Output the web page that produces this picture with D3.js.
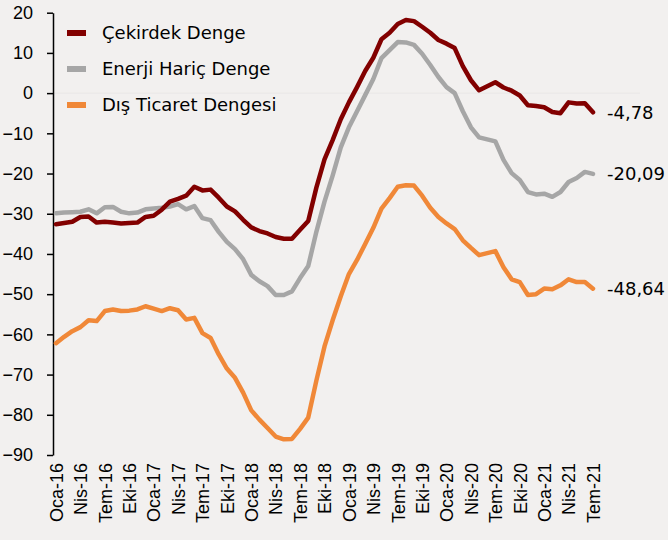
<!DOCTYPE html>
<html>
<head>
<meta charset="utf-8">
<script src="https://cdn.jsdelivr.net/npm/d3@7/dist/d3.min.js"></script>
<style>
  html, body { margin: 0; padding: 0; background: #f2f0ef; }
  svg { display: block; font-family: "DejaVu Sans", sans-serif; }
</style>
</head>
<body>
<div class="myChart"></div>
<script>
// aylar: Oca-16 .. Tem-21
const monthNames = ["Oca", "Şub", "Mar", "Nis", "May", "Haz", "Tem", "Ağu", "Eyl", "Eki", "Kas", "Ara"];
const months = [];
for (let y = 16; y <= 21; y++) {
    for (let m = 0; m < 12; m++) {
        if (y === 21 && m > 6) break;
        months.push(monthNames[m] + "-" + y);
    }
}

const cekirdek = [
    -32.6, -32.3, -32.0, -30.8, -30.7, -32.2, -32.0, -32.2, -32.4, -32.3, -32.2, -30.8,
    -30.5, -29.0, -27.0, -26.3, -25.5, -23.3, -24.2, -24.0, -26.0, -28.2, -29.4, -31.5,
    -33.4, -34.3, -34.9, -35.8, -36.2, -36.2, -34.0, -31.8, -23.5, -16.5, -11.7, -6.5,
    -2.3, 1.5, 5.5, 8.8, 13.4, 15.0, 17.2, 18.2, 17.9, 16.5, 15.0, 13.2,
    12.3, 11.2, 6.7, 3.2, 0.7, 1.7, 2.7, 1.4, 0.6, -0.6, -3.0, -3.2,
    -3.5, -4.7, -5.0, -2.3, -2.6, -2.5, -4.78
];
const enerjiHaric = [
    -29.9, -29.7, -29.6, -29.5, -28.9, -29.9, -28.4, -28.3, -29.5, -29.9, -29.7, -28.9,
    -28.7, -28.5, -28.2, -27.6, -28.9, -28.1, -31.1, -31.6, -34.5, -37.0, -38.8, -41.3,
    -45.2, -46.8, -48.0, -50.2, -50.2, -49.3, -46.0, -43.0, -34.5, -27.0, -20.5, -13.5,
    -8.5, -4.5, -0.5, 3.5, 8.7, 10.7, 12.7, 12.6, 12.0, 9.8, 7.0, 4.0,
    1.5, 0.0, -4.5, -8.5, -11.0, -11.5, -12.0, -16.6, -19.9, -21.6, -24.6, -25.2,
    -25.0, -25.8, -24.6, -22.1, -21.1, -19.6, -20.09
];
const disTicaret = [
    -62.2, -60.6, -59.2, -58.2, -56.5, -56.7, -54.2, -53.8, -54.2, -54.1, -53.8, -53.0,
    -53.6, -54.2, -53.5, -54.0, -56.3, -55.9, -59.7, -60.9, -65.0, -68.5, -70.8, -74.5,
    -78.9, -81.2, -83.3, -85.4, -86.1, -86.0, -83.5, -80.7, -71.5, -63.0, -56.5, -50.5,
    -45.0, -41.5, -37.5, -33.5, -28.7, -26.1, -23.3, -22.9, -23.0, -25.5, -28.5, -30.8,
    -32.4, -33.8, -36.6, -38.5, -40.3, -39.8, -39.3, -43.3, -46.3, -47.0, -50.2, -50.0,
    -48.6, -48.8, -47.8, -46.3, -47.0, -47.0, -48.64
];

const seriesNames = ["Çekirdek Denge", "Enerji Hariç Denge", "Dış Ticaret Dengesi"];
const seriesColors = ["#820000", "#a6a6a6", "#f08838"];
const yTicks = [20, 10, 0, -10, -20, -30, -40, -50, -60, -70, -80, -90];
const endLabels = ["-4,78", "-20,09", "-48,64"];

const width = 668, height = 540;
const svg = d3.select(".myChart").append("svg").attr("width", width).attr("height", height);

const x = d3.scalePoint().domain(months).range([56, 593]);
const y = d3.scaleLinear().domain([-90, 20]).range([455, 12.7]);

// faint zero line
svg.append("line")
    .attr("x1", 53).attr("x2", 640)
    .attr("y1", y(0)).attr("y2", y(0))
    .attr("stroke", "#e9e7e6").attr("stroke-width", 1);

const yAxis = svg.append("g")
    .attr("transform", "translate(53,0)")
    .call(d3.axisLeft(y).tickValues(yTicks).tickSize(6).tickPadding(14).tickSizeOuter(0));
yAxis.select(".domain").attr("stroke", "#000").attr("stroke-width", 1.5);
yAxis.selectAll(".tick line").attr("stroke", "#000").attr("stroke-width", 1.5);
yAxis.selectAll("text").attr("font-size", 18).attr("fill", "#000");

const xAxis = svg.append("g")
    .attr("transform", "translate(0,455)")
    .call(d3.axisBottom(x).tickValues(months.filter((d, i) => i % 3 === 0)).tickSize(0));
xAxis.select(".domain").remove();
xAxis.selectAll("text")
    .attr("font-size", 18).attr("fill", "#000")
    .attr("transform", "rotate(-90)")
    .attr("text-anchor", "end")
    .attr("x", -8).attr("y", 0).attr("dy", "0.35em");

const allSeries = [cekirdek, enerjiHaric, disTicaret];
const line = d3.line().x((d, i) => x(months[i])).y(d => y(d));

// draw orange first, red on top
[2, 1, 0].forEach(k => {
    svg.append("path")
        .datum(allSeries[k])
        .attr("fill", "none")
        .attr("stroke", seriesColors[k])
        .attr("stroke-width", 4.5)
        .attr("stroke-linejoin", "round")
        .attr("stroke-linecap", "round")
        .attr("d", line);
});

// end labels
allSeries.forEach((s, k) => {
    svg.append("text")
        .attr("x", 607)
        .attr("y", y(s[s.length - 1]))
        .attr("dy", "0.35em")
        .attr("font-size", 18)
        .attr("fill", "#000")
        .text(endLabels[k]);
});

// legend
const legend = svg.append("g");
seriesNames.forEach((n, k) => {
    const ly = 33 + k * 36;
    legend.append("line")
        .attr("x1", 67).attr("x2", 86).attr("y1", ly).attr("y2", ly)
        .attr("stroke", seriesColors[k]).attr("stroke-width", 6);
    legend.append("text")
        .attr("x", 102).attr("y", ly).attr("dy", "0.35em")
        .attr("font-size", 18).attr("fill", "#000")
        .text(n);
});
</script>
</body>
</html>
